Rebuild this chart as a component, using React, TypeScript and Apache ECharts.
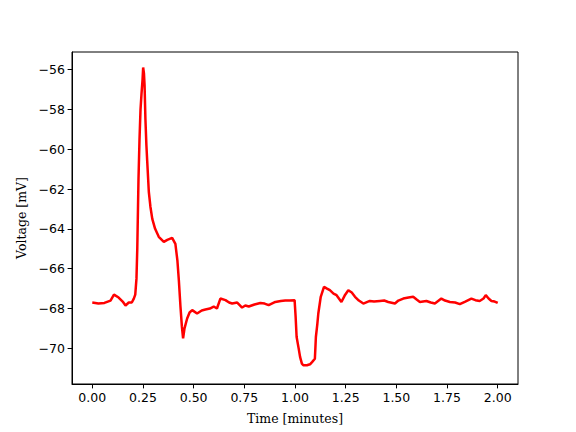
import React, { useEffect, useRef } from "react";
import * as echarts from "echarts";

const times: number[] = [
  0.0, 0.03, 0.06, 0.09, 0.107, 0.13, 0.15, 0.164, 0.18, 0.195, 0.205, 0.212,
  0.218, 0.222, 0.228, 0.233, 0.238, 0.243, 0.248, 0.251, 0.255, 0.258, 0.262,
  0.267, 0.271, 0.279, 0.287, 0.296, 0.31, 0.328, 0.353, 0.37, 0.394, 0.41,
  0.42, 0.427, 0.435, 0.442, 0.448, 0.455, 0.468, 0.48, 0.493, 0.517, 0.54,
  0.558, 0.58, 0.599, 0.615, 0.632, 0.657, 0.675, 0.69, 0.715, 0.739, 0.755,
  0.772, 0.8, 0.829, 0.85, 0.87, 0.903, 0.93, 0.952, 0.975, 0.998, 1.003,
  1.008, 1.018, 1.025, 1.034, 1.041, 1.059, 1.074, 1.084, 1.098, 1.1, 1.103,
  1.11, 1.115, 1.127, 1.143, 1.158, 1.172, 1.19, 1.205, 1.229, 1.245, 1.263,
  1.28, 1.296, 1.315, 1.337, 1.369, 1.39, 1.419, 1.44, 1.46, 1.493, 1.51,
  1.534, 1.56, 1.583, 1.6, 1.616, 1.648, 1.67, 1.69, 1.722, 1.74, 1.764, 1.79,
  1.813, 1.84, 1.87, 1.89, 1.911, 1.93, 1.941, 1.955, 1.969, 1.985, 2.0,
];

const voltages: number[] = [
  -67.7, -67.75, -67.72, -67.6, -67.3, -67.45, -67.65, -67.85, -67.7, -67.7,
  -67.5, -67.3, -66.5, -65.0, -61.5, -59.5, -58.0, -57.2, -56.5, -55.9, -56.2,
  -56.8, -58.45, -59.8, -60.6, -62.15, -62.9, -63.5, -64.0, -64.4, -64.65,
  -64.55, -64.45, -64.75, -65.6, -66.57, -67.9, -68.9, -69.5, -69.0, -68.5,
  -68.2, -68.08, -68.25, -68.1, -68.05, -68.0, -67.9, -68.0, -67.5, -67.58,
  -67.7, -67.75, -67.7, -67.95, -67.85, -67.9, -67.8, -67.72, -67.75, -67.83,
  -67.67, -67.62, -67.6, -67.6, -67.58, -68.4, -69.43, -70.0, -70.43, -70.77,
  -70.85, -70.85, -70.8, -70.69, -70.52, -70.1, -69.43, -68.8, -68.25, -67.41,
  -66.91, -67.0, -67.08, -67.25, -67.33, -67.67, -67.35, -67.08, -67.2, -67.41,
  -67.6, -67.75, -67.62, -67.65, -67.62, -67.6, -67.67, -67.75, -67.6, -67.5,
  -67.45, -67.41, -67.55, -67.67, -67.62, -67.7, -67.75, -67.5, -67.6, -67.67,
  -67.7, -67.78, -67.65, -67.5, -67.58, -67.62, -67.5, -67.33, -67.5, -67.62,
  -67.65, -67.72,
];

const xTicks: number[] = [0, 0.25, 0.5, 0.75, 1.0, 1.25, 1.5, 1.75, 2.0];
const yTicks: number[] = [-70, -68, -66, -64, -62, -60, -58, -56];

export default function App() {
  const ref = useRef<HTMLDivElement>(null);
  useEffect(() => {
    if (!ref.current) return;
    const chart = echarts.init(ref.current, null, { renderer: "svg" });
    const data = times.map((t, i) => [t, voltages[i]]);
    const tickFont = {
      fontFamily: "DejaVu Sans",
      fontSize: 12.5,
      color: "#000",
    };
    chart.setOption({
      animation: false,
      backgroundColor: "#fff",
      grid: {
        left: 72,
        right: 58,
        top: 52,
        bottom: 48,
        show: true,
        borderColor: "#000",
        borderWidth: 1,
        backgroundColor: "transparent",
      },
      xAxis: {
        type: "value",
        min: -0.1,
        max: 2.1,
        name: "Time [minutes]",
        nameLocation: "middle",
        nameGap: 28,
        nameTextStyle: { fontFamily: "DejaVu Serif", fontSize: 12.5, color: "#000" },
        splitLine: { show: false },
        axisLine: { show: true, onZero: false, lineStyle: { color: "#000", width: 1 } },
        axisTick: {
          show: true,
          inside: false,
          length: 4.4,
          customValues: xTicks,
          lineStyle: { color: "#000", width: 1 },
        },
        axisLabel: {
          ...tickFont,
          margin: 7,
          customValues: xTicks,
          formatter: (v: number) => v.toFixed(2),
        },
      },
      yAxis: {
        type: "value",
        min: -71.79,
        max: -55.12,
        name: "Voltage [mV]",
        nameLocation: "middle",
        nameGap: 44,
        nameRotate: 90,
        nameTextStyle: { fontFamily: "DejaVu Serif", fontSize: 12.5, color: "#000" },
        splitLine: { show: false },
        axisLine: { show: true, onZero: false, lineStyle: { color: "#000", width: 1 } },
        axisTick: {
          show: true,
          inside: false,
          length: 4.4,
          customValues: yTicks,
          lineStyle: { color: "#000", width: 1 },
        },
        axisLabel: {
          ...tickFont,
          margin: 7,
          customValues: yTicks,
          formatter: (v: number) => (v < 0 ? "\u2212" : "") + Math.abs(v).toString(),
        },
      },
      series: [
        {
          type: "line",
          data,
          showSymbol: false,
          symbol: "none",
          lineStyle: { color: "#ff0000", width: 2.5 },
          itemStyle: { color: "#ff0000" },
        },
      ],
    });
    return () => chart.dispose();
  }, []);
  return (
    <div
      ref={ref}
      style={{ position: "fixed", left: 0, top: 0, width: 576, height: 432, background: "#fff" }}
    />
  );
}
